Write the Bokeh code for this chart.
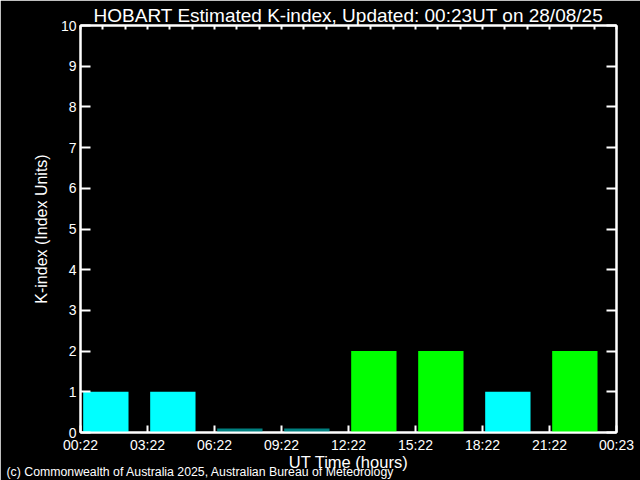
from bokeh.plotting import figure
from bokeh.models import Range1d, LinearAxis, FixedTicker, Title, ColumnDataSource
from bokeh.embed import file_html
from bokeh.resources import INLINE

# ---- data ----
period_start_hours = [0, 3, 6, 9, 12, 15, 18, 21]
k_index = [1, 1, 0, 0, 2, 2, 1, 2]
x_tick_hours = [0, 3, 6, 9, 12, 15, 18, 21, 24]
x_tick_labels = ["00:22", "03:22", "06:22", "09:22", "12:22", "15:22", "18:22", "21:22", "00:23"]
y_ticks = list(range(0, 11))
title_text = "HOBART Estimated K-index, Updated: 00:23UT on 28/08/25"
footer_text = "(c) Commonwealth of Australia 2025, Australian Bureau of Meteorology"

FONT = "Liberation Sans"
colour_for_k = {0: "#008080", 1: "#00FFFF", 2: "#00FF00", 3: "#FFFF00"}

bar_offset = 0.12
bar_width = 2.03
zero_height = 0.1

src = ColumnDataSource(dict(
    x=[s + bar_offset + bar_width / 2 for s in period_start_hours],
    top=[k if k > 0 else zero_height for k in k_index],
    color=[colour_for_k[k] for k in k_index],
))

p = figure(width=640, height=480, output_backend="svg", toolbar_location=None,
           x_range=Range1d(0, 24), y_range=Range1d(0, 10),
           min_border_left=80, min_border_right=24, min_border_top=25, min_border_bottom=48,
           x_axis_location=None, y_axis_location=None, title=None)
p.background_fill_color = "black"
p.border_fill_color = "black"
p.outline_line_color = "white"
p.outline_line_width = 2
p.grid.visible = False

p.vbar(x="x", top="top", bottom=0, width=bar_width, fill_color="color", line_color=None, source=src)

def style_axis(ax):
    ax.axis_line_color = "white"
    ax.axis_line_width = 2
    ax.major_tick_line_color = "white"
    ax.major_tick_line_width = 2
    ax.minor_tick_line_color = None
    ax.major_tick_out = 0
    ax.major_label_text_color = "white"
    ax.major_label_text_font = FONT
    ax.axis_label_text_color = "white"
    ax.axis_label_text_font = FONT
    ax.axis_label_text_font_style = "normal"

left = LinearAxis(ticker=FixedTicker(ticks=y_ticks))
style_axis(left)
left.major_tick_in = 10
left.major_label_text_font_size = "14px"
left.major_label_standoff = 4
left.axis_label = "K-index (Index Units)"
left.axis_label_text_font_size = "16px"
left.axis_label_standoff = 8
p.add_layout(left, "left")

right = LinearAxis(ticker=FixedTicker(ticks=y_ticks))
style_axis(right)
right.major_tick_in = 10
right.major_label_standoff = 0
right.major_label_overrides = {t: "" for t in y_ticks}
p.add_layout(right, "right")

bottom = LinearAxis(ticker=FixedTicker(ticks=x_tick_hours),
                    major_label_overrides={h: l for h, l in zip(x_tick_hours, x_tick_labels)})
style_axis(bottom)
bottom.major_tick_in = 7
bottom.major_label_text_font_size = "14px"
bottom.major_label_standoff = 4
bottom.axis_label = "UT Time (hours)"
bottom.axis_label_text_font_size = "16.5px"
bottom.axis_label_standoff = -3
p.add_layout(bottom, "below")

top = LinearAxis(ticker=FixedTicker(ticks=list(range(0, 25))))
style_axis(top)
top.major_tick_in = 4
top.major_label_standoff = 0
top.major_label_overrides = {t: "" for t in range(0, 25)}
p.add_layout(top, "above")

p.add_layout(Title(text=footer_text, align="left", offset=-74, standoff=-18, vertical_align="top",
                   text_color="white", text_font=FONT, text_font_size="12.3px",
                   text_font_style="normal"), "below")
p.add_layout(Title(text=title_text, align="center", standoff=0,
                   text_color="white", text_font=FONT, text_font_size="19px",
                   text_font_style="normal"), "above")

html = file_html(p, INLINE)
html = html.replace("<body>", '<body style="background-color:#000000; margin:0; overflow:hidden;">', 1)
open("out.html", "w").write(html)
